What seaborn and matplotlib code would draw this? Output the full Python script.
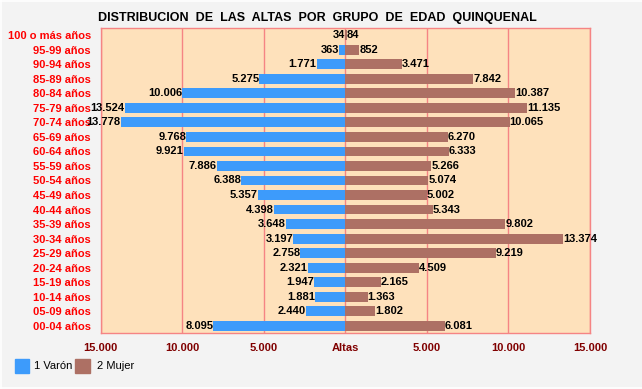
import pandas as pd
import seaborn as sns
import matplotlib.pyplot as plt
from matplotlib.patches import Rectangle
from matplotlib.lines import Line2D

# grupos de edad, de arriba a abajo
edades = ['100 o más años', '95-99 años', '90-94 años', '85-89 años', '80-84 años',
          '75-79 años', '70-74 años', '65-69 años', '60-64 años', '55-59 años',
          '50-54 años', '45-49 años', '40-44 años', '35-39 años', '30-34 años',
          '25-29 años', '20-24 años', '15-19 años', '10-14 años', '05-09 años',
          '00-04 años']
varon = [34, 363, 1771, 5275, 10006, 13524, 13778, 9768, 9921, 7886,
         6388, 5357, 4398, 3648, 3197, 2758, 2321, 1947, 1881, 2440, 8095]
mujer = [84, 852, 3471, 7842, 10387, 11135, 10065, 6270, 6333, 5266,
         5074, 5002, 5343, 9802, 13374, 9219, 4509, 2165, 1363, 1802, 6081]
ticks = [-15000, -10000, -5000, 0, 5000, 10000, 15000]
tick_labels = ['15.000', '10.000', '5.000', 'Altas', '5.000', '10.000', '15.000']

azul = '#3d9bfb'
marron = '#ad7064'
rojo_grid = '#f58484'

df = pd.DataFrame({'edad': edades, 'varon': [-v for v in varon], 'mujer': mujer})

fig = plt.figure(figsize=(6.42, 3.89), dpi=100, facecolor='#f3f3f3')
ax = fig.add_axes([0.157, 0.144, 0.762, 0.784])
ax.set_facecolor('#fee1bb')

sns.barplot(data=df, x='varon', y='edad', color=azul, width=0.68, orient='h',
            saturation=1, ax=ax, zorder=3)
sns.barplot(data=df, x='mujer', y='edad', color=marron, width=0.68, orient='h',
            saturation=1, ax=ax, zorder=3)

ax.set_xlim(-15000, 15000)
ax.set_ylim(20.5, -0.5)
ax.set_xticks(ticks)
ax.set_xticklabels(tick_labels, fontsize=8, fontweight='bold', color='#800000',
                   family='Liberation Sans')
ax.tick_params(axis='x', length=0, pad=7)
ax.tick_params(axis='y', length=0, pad=7)
for lab in ax.get_yticklabels():
    lab.set_color('#ff0000')
    lab.set_fontweight('bold')
    lab.set_fontsize(8)
    lab.set_family('Liberation Sans')
ax.set_xlabel('')
ax.set_ylabel('')

for t in ticks:
    ax.axvline(t, color=rojo_grid, lw=1, zorder=1)
for s in ax.spines.values():
    s.set_color(rojo_grid)
    s.set_linewidth(1)

def fmt(n):
    return f'{n:,}'.replace(',', '.')

for i in range(len(edades)):
    ax.text(-varon[i], i, fmt(varon[i]), ha='right', va='center', fontsize=8,
            fontweight='bold', family='Liberation Sans', zorder=4)
    ax.text(mujer[i], i, fmt(mujer[i]), ha='left', va='center', fontsize=8,
            fontweight='bold', family='Liberation Sans', zorder=4)

fig.text(0.494, 0.953, 'DISTRIBUCION  DE  LAS  ALTAS  POR  GRUPO  DE  EDAD  QUINQUENAL',
         ha='center', va='center', fontsize=9, fontweight='bold', family='Liberation Sans')

# leyenda
fig.patches.append(Rectangle((15 / 642, 1 - 373 / 389), 14 / 642, 14 / 389,
                             transform=fig.transFigure, color=azul))
fig.text(34 / 642, 1 - 366 / 389, '1 Varón', va='center', fontsize=8,
         family='Liberation Sans')
fig.patches.append(Rectangle((75 / 642, 1 - 373 / 389), 15 / 642, 14 / 389,
                             transform=fig.transFigure, color=marron))
fig.text(97 / 642, 1 - 366 / 389, '2 Mujer', va='center', fontsize=8,
         family='Liberation Sans')

# borde claro del marco
for xs, ys in [([0.001, 0.001], [0, 1]), ([0, 1], [0.998, 0.998]), ([0, 1], [0.003, 0.003])]:
    fig.lines.append(Line2D(xs, ys, transform=fig.transFigure, color='white', lw=1.2))

fig.savefig('out.png', dpi=100, facecolor=fig.get_facecolor())
